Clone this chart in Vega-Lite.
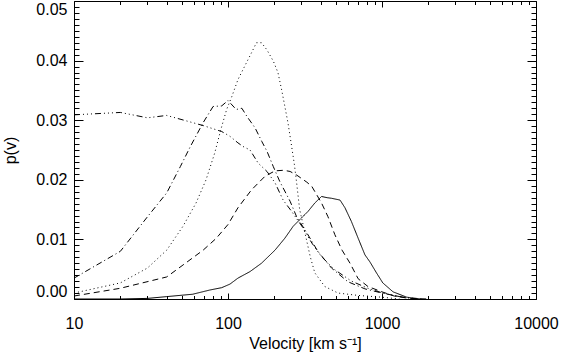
{
  "$schema": "https://vega.github.io/schema/vega-lite/v6.json",
  "width": 462,
  "height": 298,
  "autosize": {"type": "none"},
  "padding": {"left": 74, "top": 1, "right": 27, "bottom": 53},
  "background": "white",
  "config": {
    "view": {"stroke": "black", "strokeWidth": 1},
    "axis": {"labelFont": "Liberation Sans", "titleFont": "Liberation Sans", "labelFontSize": 16, "titleFontSize": 16, "labelColor": "black", "titleColor": "black", "titleFontWeight": "normal", "tickColor": "black", "grid": false, "domain": false}
  },
  "data": {"values": [
    {"model": "A", "v": 10, "p": 0.0},
    {"model": "A", "v": 20, "p": 0.0},
    {"model": "A", "v": 30, "p": 0.0001},
    {"model": "A", "v": 40, "p": 0.0004},
    {"model": "A", "v": 59, "p": 0.0008},
    {"model": "A", "v": 76, "p": 0.0015},
    {"model": "A", "v": 91, "p": 0.0019},
    {"model": "A", "v": 103, "p": 0.0025},
    {"model": "A", "v": 116, "p": 0.0035},
    {"model": "A", "v": 139, "p": 0.0046},
    {"model": "A", "v": 165, "p": 0.006},
    {"model": "A", "v": 202, "p": 0.0082},
    {"model": "A", "v": 234, "p": 0.0102},
    {"model": "A", "v": 265, "p": 0.0122},
    {"model": "A", "v": 292, "p": 0.0133},
    {"model": "A", "v": 331, "p": 0.0147},
    {"model": "A", "v": 366, "p": 0.0161},
    {"model": "A", "v": 405, "p": 0.0172},
    {"model": "A", "v": 440, "p": 0.017},
    {"model": "A", "v": 470, "p": 0.0169},
    {"model": "A", "v": 534, "p": 0.0166},
    {"model": "A", "v": 575, "p": 0.0153},
    {"model": "A", "v": 633, "p": 0.013},
    {"model": "A", "v": 700, "p": 0.0102},
    {"model": "A", "v": 775, "p": 0.0074},
    {"model": "A", "v": 836, "p": 0.0062},
    {"model": "A", "v": 920, "p": 0.0044},
    {"model": "A", "v": 1012, "p": 0.0027},
    {"model": "A", "v": 1180, "p": 0.0012},
    {"model": "A", "v": 1450, "p": 0.0003},
    {"model": "A", "v": 1800, "p": 0.0},
    {"model": "B", "v": 10, "p": 0.0005},
    {"model": "B", "v": 20, "p": 0.0018},
    {"model": "B", "v": 40, "p": 0.0037},
    {"model": "B", "v": 51, "p": 0.0057},
    {"model": "B", "v": 69, "p": 0.0082},
    {"model": "B", "v": 84, "p": 0.0102},
    {"model": "B", "v": 100, "p": 0.0125},
    {"model": "B", "v": 116, "p": 0.0153},
    {"model": "B", "v": 142, "p": 0.0183},
    {"model": "B", "v": 174, "p": 0.0206},
    {"model": "B", "v": 202, "p": 0.0215},
    {"model": "B", "v": 230, "p": 0.0216},
    {"model": "B", "v": 253, "p": 0.0214},
    {"model": "B", "v": 279, "p": 0.0208},
    {"model": "B", "v": 325, "p": 0.0196},
    {"model": "B", "v": 350, "p": 0.0189},
    {"model": "B", "v": 405, "p": 0.0161},
    {"model": "B", "v": 446, "p": 0.0138},
    {"model": "B", "v": 494, "p": 0.0108},
    {"model": "B", "v": 550, "p": 0.0082},
    {"model": "B", "v": 620, "p": 0.006},
    {"model": "B", "v": 700, "p": 0.0034},
    {"model": "B", "v": 810, "p": 0.0021},
    {"model": "B", "v": 1000, "p": 0.0012},
    {"model": "B", "v": 1200, "p": 0.0005},
    {"model": "B", "v": 1500, "p": 0.0001},
    {"model": "B", "v": 2000, "p": 0.0},
    {"model": "C", "v": 10, "p": 0.001},
    {"model": "C", "v": 20, "p": 0.0027},
    {"model": "C", "v": 30, "p": 0.0052},
    {"model": "C", "v": 40, "p": 0.0082},
    {"model": "C", "v": 51, "p": 0.0122},
    {"model": "C", "v": 62, "p": 0.0161},
    {"model": "C", "v": 72, "p": 0.02},
    {"model": "C", "v": 82, "p": 0.0245},
    {"model": "C", "v": 90, "p": 0.0285},
    {"model": "C", "v": 98, "p": 0.0318},
    {"model": "C", "v": 106, "p": 0.034},
    {"model": "C", "v": 116, "p": 0.0368},
    {"model": "C", "v": 128, "p": 0.039},
    {"model": "C", "v": 142, "p": 0.0413},
    {"model": "C", "v": 153, "p": 0.043},
    {"model": "C", "v": 165, "p": 0.043},
    {"model": "C", "v": 179, "p": 0.0418},
    {"model": "C", "v": 197, "p": 0.0399},
    {"model": "C", "v": 211, "p": 0.038},
    {"model": "C", "v": 223, "p": 0.0351},
    {"model": "C", "v": 234, "p": 0.0323},
    {"model": "C", "v": 245, "p": 0.0296},
    {"model": "C", "v": 259, "p": 0.0256},
    {"model": "C", "v": 270, "p": 0.0225},
    {"model": "C", "v": 279, "p": 0.0195},
    {"model": "C", "v": 292, "p": 0.015},
    {"model": "C", "v": 316, "p": 0.0111},
    {"model": "C", "v": 342, "p": 0.0071},
    {"model": "C", "v": 366, "p": 0.0044},
    {"model": "C", "v": 425, "p": 0.0021},
    {"model": "C", "v": 518, "p": 0.001},
    {"model": "C", "v": 700, "p": 0.0006},
    {"model": "C", "v": 1000, "p": 0.0003},
    {"model": "C", "v": 1300, "p": 0.0},
    {"model": "D", "v": 10, "p": 0.0035},
    {"model": "D", "v": 20, "p": 0.008},
    {"model": "D", "v": 30, "p": 0.0138},
    {"model": "D", "v": 40, "p": 0.0178},
    {"model": "D", "v": 49, "p": 0.0222},
    {"model": "D", "v": 57, "p": 0.0256},
    {"model": "D", "v": 69, "p": 0.0296},
    {"model": "D", "v": 80, "p": 0.0323},
    {"model": "D", "v": 91, "p": 0.0324},
    {"model": "D", "v": 100, "p": 0.0333},
    {"model": "D", "v": 113, "p": 0.0318},
    {"model": "D", "v": 123, "p": 0.032},
    {"model": "D", "v": 133, "p": 0.0306},
    {"model": "D", "v": 150, "p": 0.0287},
    {"model": "D", "v": 166, "p": 0.0264},
    {"model": "D", "v": 179, "p": 0.0248},
    {"model": "D", "v": 197, "p": 0.0222},
    {"model": "D", "v": 217, "p": 0.0197},
    {"model": "D", "v": 253, "p": 0.0164},
    {"model": "D", "v": 279, "p": 0.0138},
    {"model": "D", "v": 325, "p": 0.0111},
    {"model": "D", "v": 383, "p": 0.008},
    {"model": "D", "v": 470, "p": 0.0052},
    {"model": "D", "v": 600, "p": 0.0029},
    {"model": "D", "v": 775, "p": 0.0017},
    {"model": "D", "v": 1000, "p": 0.001},
    {"model": "D", "v": 1300, "p": 0.0004},
    {"model": "D", "v": 1700, "p": 0.0},
    {"model": "E", "v": 10, "p": 0.0309},
    {"model": "E", "v": 20, "p": 0.0313},
    {"model": "E", "v": 30, "p": 0.0304},
    {"model": "E", "v": 40, "p": 0.0308},
    {"model": "E", "v": 69, "p": 0.0291},
    {"model": "E", "v": 91, "p": 0.0281},
    {"model": "E", "v": 103, "p": 0.0273},
    {"model": "E", "v": 116, "p": 0.0262},
    {"model": "E", "v": 125, "p": 0.0256},
    {"model": "E", "v": 139, "p": 0.025},
    {"model": "E", "v": 157, "p": 0.0228},
    {"model": "E", "v": 179, "p": 0.0214},
    {"model": "E", "v": 202, "p": 0.0195},
    {"model": "E", "v": 228, "p": 0.0166},
    {"model": "E", "v": 259, "p": 0.0147},
    {"model": "E", "v": 302, "p": 0.0122},
    {"model": "E", "v": 350, "p": 0.0094},
    {"model": "E", "v": 405, "p": 0.0071},
    {"model": "E", "v": 494, "p": 0.0049},
    {"model": "E", "v": 633, "p": 0.003},
    {"model": "E", "v": 810, "p": 0.0018},
    {"model": "E", "v": 1012, "p": 0.001},
    {"model": "E", "v": 1300, "p": 0.0004},
    {"model": "E", "v": 1700, "p": 0.0}
  ]},
  "resolve": {"axis": {"x": "independent", "y": "independent"}},
  "layer": [
    {
      "mark": {"type": "line", "color": "black", "strokeWidth": 1, "clip": true},
      "encoding": {
        "x": {"field": "v", "type": "quantitative", "scale": {"type": "log", "domain": [10, 10000], "nice": false},
              "axis": {"orient": "bottom", "values": [10, 100, 1000, 10000], "format": "d", "ticks": false, "tickSize": 0, "labelPadding": 16, "labelFlush": false, "title": "Velocity [km s⁻¹]", "titlePadding": 4}},
        "y": {"field": "p", "type": "quantitative", "scale": {"domain": [0, 0.05], "nice": false, "zero": false},
              "axis": {"orient": "left", "values": [0, 0.01, 0.02, 0.03, 0.04, 0.05], "format": ".2f", "ticks": false, "tickSize": 0, "labelPadding": 7, "labelFlush": true, "title": "p(v)", "titlePadding": 17}},
        "strokeDash": {"field": "model", "type": "nominal", "legend": null,
                       "scale": {"domain": ["A", "B", "C", "D", "E"], "range": [[1, 0], [6, 4], [1, 3], [6, 3, 1, 3], [6, 3, 1, 3, 1, 3, 1, 3]]}},
        "detail": {"field": "model"}
      }
    },
    {
      "mark": {"type": "point", "opacity": 0},
      "encoding": {
        "x": {"field": "v", "type": "quantitative", "scale": {"type": "log", "domain": [10, 10000], "nice": false},
              "axis": {"orient": "bottom", "values": [10, 100, 1000, 10000], "labels": false, "title": null, "tickSize": -6}},
        "y": {"field": "p", "type": "quantitative", "scale": {"domain": [0, 0.05], "nice": false, "zero": false},
              "axis": {"orient": "left", "values": [0, 0.01, 0.02, 0.03, 0.04, 0.05], "labels": false, "title": null, "tickSize": -9}}
      }
    },
    {
      "mark": {"type": "point", "opacity": 0},
      "encoding": {
        "x": {"field": "v", "type": "quantitative", "scale": {"type": "log", "domain": [10, 10000], "nice": false},
              "axis": {"orient": "bottom", "values": [20, 30, 40, 50, 60, 70, 80, 90, 200, 300, 400, 500, 600, 700, 800, 900, 2000, 3000, 4000, 5000, 6000, 7000, 8000, 9000], "labels": false, "title": null, "tickSize": -3.5}},
        "y": {"field": "p", "type": "quantitative", "scale": {"domain": [0, 0.05], "nice": false, "zero": false},
              "axis": {"orient": "left", "values": [0.001, 0.002, 0.003, 0.004, 0.005, 0.006, 0.007, 0.008, 0.009, 0.011, 0.012, 0.013, 0.014, 0.015, 0.016, 0.017, 0.018, 0.019, 0.021, 0.022, 0.023, 0.024, 0.025, 0.026, 0.027, 0.028, 0.029, 0.031, 0.032, 0.033, 0.034, 0.035, 0.036, 0.037, 0.038, 0.039, 0.041, 0.042, 0.043, 0.044, 0.045, 0.046, 0.047, 0.048, 0.049], "labels": false, "title": null, "tickSize": -5}}
      }
    },
    {
      "mark": {"type": "point", "opacity": 0},
      "encoding": {
        "x": {"field": "v", "type": "quantitative", "scale": {"type": "log", "domain": [10, 10000], "nice": false},
              "axis": {"orient": "top", "values": [10, 100, 1000, 10000], "labels": false, "title": null, "tickSize": -6}},
        "y": {"field": "p", "type": "quantitative", "scale": {"domain": [0, 0.05], "nice": false, "zero": false},
              "axis": {"orient": "right", "values": [0, 0.01, 0.02, 0.03, 0.04, 0.05], "labels": false, "title": null, "tickSize": -9}}
      }
    },
    {
      "mark": {"type": "point", "opacity": 0},
      "encoding": {
        "x": {"field": "v", "type": "quantitative", "scale": {"type": "log", "domain": [10, 10000], "nice": false},
              "axis": {"orient": "top", "values": [20, 30, 40, 50, 60, 70, 80, 90, 200, 300, 400, 500, 600, 700, 800, 900, 2000, 3000, 4000, 5000, 6000, 7000, 8000, 9000], "labels": false, "title": null, "tickSize": -3.5}},
        "y": {"field": "p", "type": "quantitative", "scale": {"domain": [0, 0.05], "nice": false, "zero": false},
              "axis": {"orient": "right", "values": [0.001, 0.002, 0.003, 0.004, 0.005, 0.006, 0.007, 0.008, 0.009, 0.011, 0.012, 0.013, 0.014, 0.015, 0.016, 0.017, 0.018, 0.019, 0.021, 0.022, 0.023, 0.024, 0.025, 0.026, 0.027, 0.028, 0.029, 0.031, 0.032, 0.033, 0.034, 0.035, 0.036, 0.037, 0.038, 0.039, 0.041, 0.042, 0.043, 0.044, 0.045, 0.046, 0.047, 0.048, 0.049], "labels": false, "title": null, "tickSize": -5}}
      }
    }
  ]
}
